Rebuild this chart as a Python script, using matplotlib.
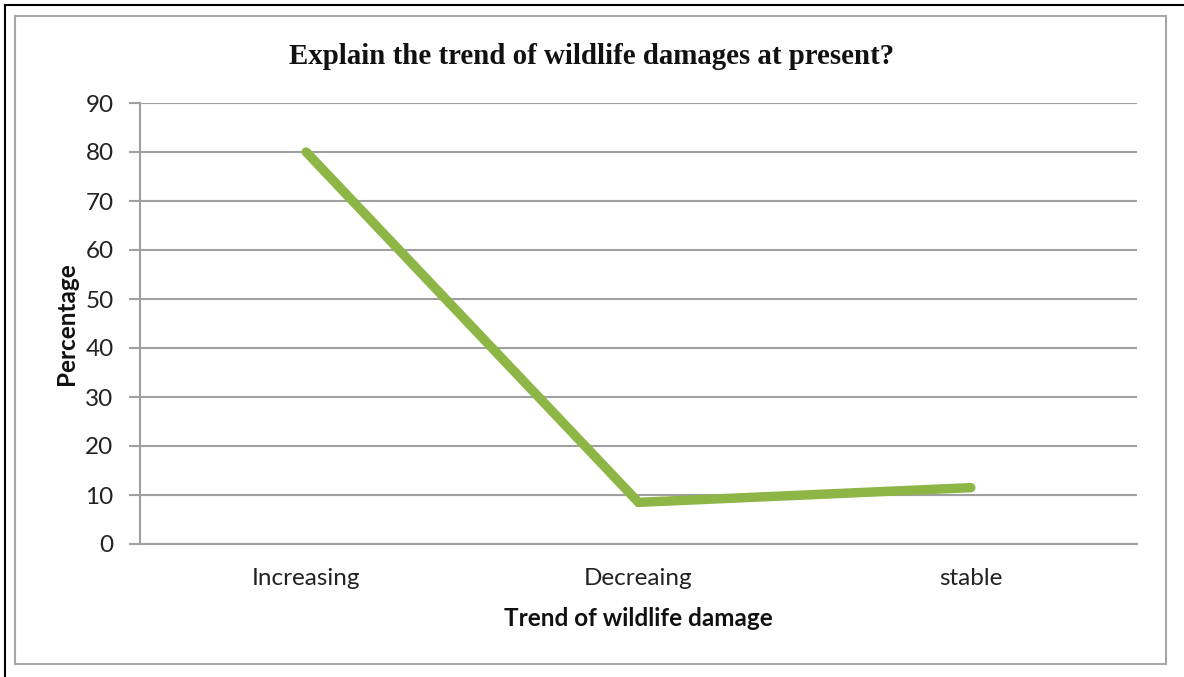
import matplotlib.pyplot as plt
from matplotlib.patches import Rectangle

# data
categories = ['Increasing', 'Decreaing', 'stable']
percentages = [80, 8.5, 11.5]
y_ticks = [0, 10, 20, 30, 40, 50, 60, 70, 80, 90]

W, H = 1184, 677
fig = plt.figure(figsize=(W / 100, H / 100), dpi=100)
fig.patch.set_facecolor('white')

# outer black frame (left and top visible) and inner gray chart frame
fig.add_artist(plt.Line2D([4.5 / W, 4.5 / W], [0, 1 - 5 / H], color='black', lw=1.5,
                          transform=fig.transFigure))
fig.add_artist(plt.Line2D([4.5 / W, 1], [1 - 5 / H, 1 - 5 / H], color='black', lw=1.5,
                          transform=fig.transFigure))
fig.add_artist(Rectangle((15 / W, 1 - 664 / H), (1166 - 15) / W, (664 - 16) / H,
                         fill=False, edgecolor='#a6a6a6', lw=1.5, transform=fig.transFigure))

ax = fig.add_axes([140 / W, 1 - 544 / H, (1137 - 140) / W, (544 - 103) / H])
x = list(range(len(categories)))
ax.plot(x, percentages, color='#8db646', lw=6.8, solid_capstyle='round',
        solid_joinstyle='miter', zorder=3)

ax.set_xlim(-0.5, len(categories) - 0.5)
ax.set_ylim(0, 90)
ax.set_yticks(y_ticks)
ax.set_xticks(x)
ax.set_xticklabels(categories)
ax.yaxis.grid(True, color='#a0a0a0', lw=1.5)
ax.set_axisbelow(True)

for s in ['top', 'right']:
    ax.spines[s].set_visible(False)
ax.spines['left'].set_color('#a0a0a0')
ax.spines['bottom'].set_color('#a0a0a0')
ax.spines['left'].set_linewidth(1.5)
ax.spines['bottom'].set_linewidth(1.5)
ax.tick_params(axis='y', length=8, width=1.5, color='#a0a0a0', pad=11,
               labelsize=17.5, labelcolor='#222222')
ax.tick_params(axis='x', length=0, pad=17, labelsize=17.5, labelcolor='#222222')
for lab in ax.get_xticklabels() + ax.get_yticklabels():
    lab.set_fontfamily('Lato')

ax.set_xlabel('Trend of wildlife damage', fontsize=17.5, fontweight='bold',
              fontfamily='Lato', labelpad=13, color='#111111')
ax.set_ylabel('Percentage', fontsize=17.5, fontweight='bold',
              fontfamily='Lato', labelpad=5, color='#111111')

fig.text(592 / W, 1 - 57 / H, 'Explain the trend of wildlife damages at present?',
         ha='center', va='center', fontsize=20.8, fontweight='bold',
         fontfamily='Liberation Serif', color='#111111')

fig.savefig('out.png', dpi=100)
